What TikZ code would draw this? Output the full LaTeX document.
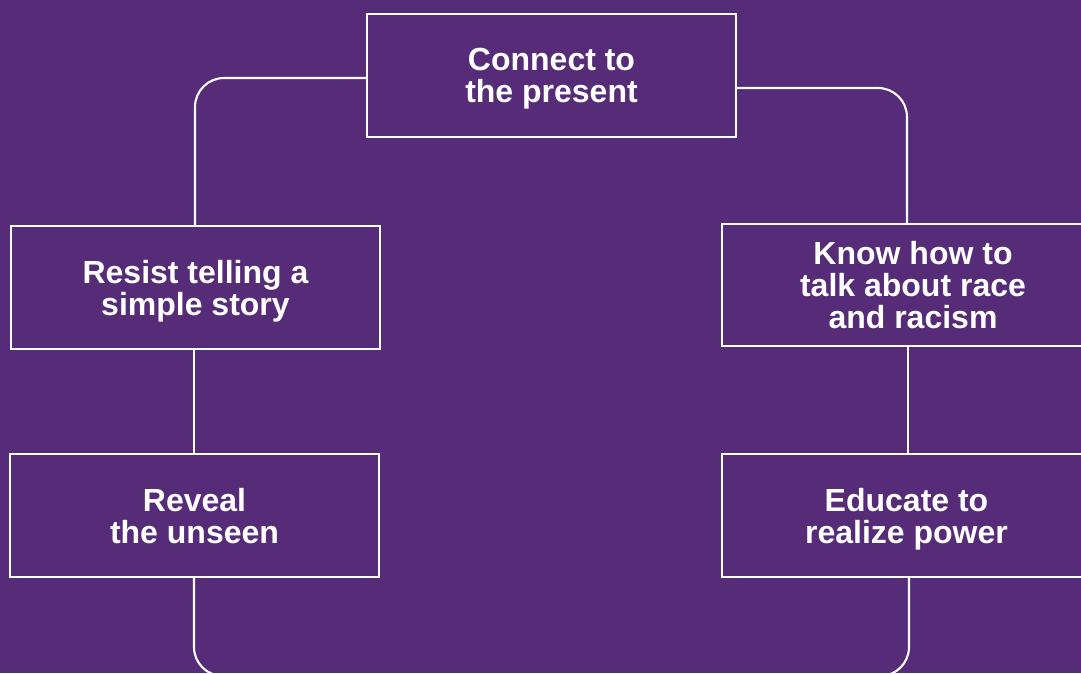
\documentclass[tikz,border=0pt]{standalone}
\usepackage{fontspec}
\setmainfont{Liberation Sans}
\definecolor{bgpurple}{RGB}{86,43,119}
\begin{document}
\begin{tikzpicture}[x=1pt,y=-1pt,
  every node/.style={inner sep=0pt,outer sep=0pt},
  stepbox/.style={draw=white,line width=2.2pt,rectangle,
    minimum width=369pt,minimum height=123pt,align=center,text depth=0pt,
    text=white,font=\fontsize{32}{32}\selectfont\bfseries},
  link/.style={draw=white,line width=2.1pt,rounded corners=29pt}]
  \useasboundingbox (0,0) rectangle (1081,673);
  \clip (0,0) rectangle (1081,673);
  \fill[bgpurple] (0,0) rectangle (1081,673);

  % the five steps
  \node[stepbox] (present) at (551.5,75.5) {Connect to\\the present};
  \node[stepbox] (resist) at (195.5,287.5) {Resist telling a\\simple story};
  \node[stepbox] (reveal) at (194.5,515.5) {Reveal\\the unseen};
  \node[stepbox,minimum width=382pt,minimum height=122pt] (talk) at (913,285)
    {Know how to\\talk about race\\and racism};
  \node[stepbox] (educate) at (906.5,515.5) {Educate to\\realize power};

  % bends of the loop
  \coordinate (lt) at (195,78);
  \coordinate (rt) at (907,88);
  \coordinate (lm) at (194,400);
  \coordinate (rm) at (908,400);
  \coordinate (lb) at (194,676);
  \coordinate (rb) at (909,676);

  \draw[link] (present.west |- lt) -- (lt) -- (lt |- resist.north);
  \draw[link] (present.east |- rt) -- (rt) -- (rt |- talk.north);
  \draw[link] (lm |- resist.south) -- (lm |- reveal.north);
  \draw[link] (rm |- talk.south) -- (rm |- educate.north);
  \draw[link] (lb |- reveal.south) -- (lb) -- (rb) -- (rb |- educate.south);
\end{tikzpicture}
\end{document}
